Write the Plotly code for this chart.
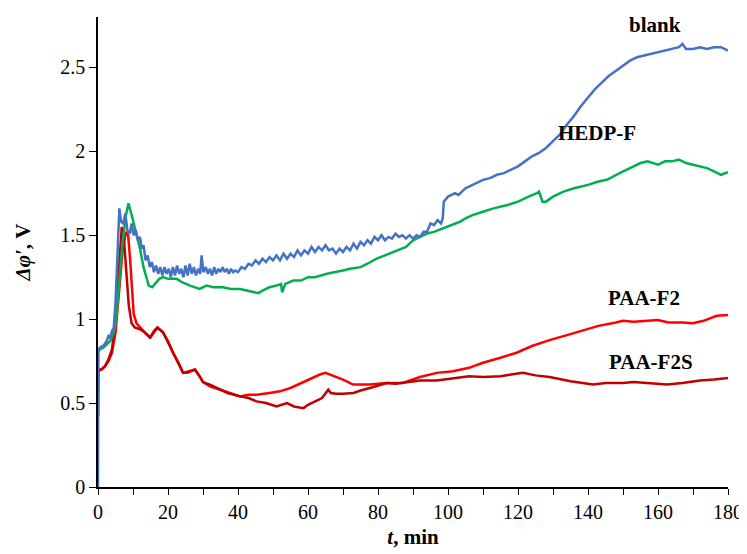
import plotly.graph_objects as go

# ---- data ----
blank_t = [0, 0.05, 0.5, 1.5, 2.5, 3, 3.5, 4, 4.5, 5, 5.5, 6.1, 6.6, 7.2, 7.8, 8.4, 9.1, 9.6, 10.2, 10.8,
           11.4, 12, 12.5, 13, 13.6, 14.2, 14.8, 15.4, 16, 16.6, 17.2, 17.8, 18.4, 19, 19.6, 20.2, 20.8,
           21.4, 22, 22.6, 23.2, 23.8, 24.4, 25, 25.6, 26.2, 26.8, 27.4, 28, 28.6, 29.2, 29.6, 30.1, 30.8,
           31.4, 32, 32.6, 33.2, 33.8, 34.4, 35, 35.6, 36.2, 36.8, 37.4, 38, 38.6, 39.2, 40, 41, 42, 43,
           44, 45, 46, 47, 48, 49, 50, 51, 52, 53, 54, 55, 56, 57, 58, 59, 60, 61, 62, 63, 64, 65, 66, 67,
           68, 69, 70, 71, 72, 73, 74, 75, 76, 77, 78, 79, 80, 81, 82, 83, 84, 85, 86, 87, 88, 89, 90, 91,
           92, 93, 94, 95, 96, 97, 98, 98.5, 98.8, 100, 101, 102, 103, 104, 105, 106, 107, 108, 109, 110,
           112, 114, 116, 118, 120, 122, 124, 126, 128, 130, 132, 134, 136, 138, 140, 142, 144, 146, 148,
           150, 152, 154, 156, 158, 160, 162, 164, 166, 167, 168, 170, 172, 174, 176, 178, 180]
blank_v = [0.0, 0.80, 0.83, 0.84, 0.87, 0.90, 0.89, 0.93, 0.95, 1.10, 1.35, 1.66, 1.58, 1.57, 1.63, 1.53,
           1.51, 1.57, 1.50, 1.53, 1.47, 1.49, 1.42, 1.44, 1.35, 1.38, 1.31, 1.34, 1.28, 1.32, 1.27, 1.31,
           1.26, 1.31, 1.27, 1.30, 1.25, 1.31, 1.26, 1.32, 1.27, 1.30, 1.25, 1.32, 1.26, 1.33, 1.27, 1.31,
           1.26, 1.30, 1.27, 1.38, 1.28, 1.31, 1.27, 1.30, 1.26, 1.31, 1.27, 1.30, 1.28, 1.31, 1.28, 1.30,
           1.27, 1.30, 1.28, 1.29, 1.28, 1.31, 1.30, 1.33, 1.32, 1.35, 1.33, 1.36, 1.34, 1.37, 1.35, 1.38,
           1.35, 1.39, 1.36, 1.39, 1.37, 1.41, 1.38, 1.41, 1.39, 1.43, 1.40, 1.43, 1.41, 1.44, 1.41, 1.42,
           1.39, 1.42, 1.40, 1.43, 1.41, 1.45, 1.42, 1.46, 1.44, 1.47, 1.45, 1.49, 1.47, 1.50, 1.47, 1.49,
           1.48, 1.51, 1.49, 1.50, 1.48, 1.50, 1.48, 1.50, 1.49, 1.52, 1.52, 1.57, 1.56, 1.59, 1.57, 1.60,
           1.70, 1.73, 1.74, 1.75, 1.74, 1.76, 1.78, 1.79, 1.80, 1.81, 1.82, 1.83, 1.84, 1.86, 1.87, 1.89,
           1.91, 1.94, 1.97, 1.99, 2.02, 2.06, 2.10, 2.16, 2.21, 2.27, 2.32, 2.37, 2.41, 2.45, 2.48, 2.51,
           2.54, 2.56, 2.57, 2.58, 2.59, 2.60, 2.61, 2.62, 2.64, 2.61, 2.61, 2.62, 2.61, 2.62, 2.62, 2.60]

hedp_t = [0, 0.05, 0.5, 1.5, 2.5, 3.5, 4.5, 5.2, 6, 7, 8, 8.7, 9.5, 10.2, 11, 12, 13, 14, 14.5, 15.5, 16.3,
          17.5, 18.6, 20, 22.5, 24, 26.3, 28, 29, 31, 33, 35.7, 38, 40.6, 43, 45.8, 47, 49, 51, 52.3, 52.6,
          53.5, 55.8, 58, 60, 62, 65.4, 68, 70, 72, 75, 77, 79.6, 82, 84.3, 86, 88, 89, 90, 92, 94, 96, 98.6,
          101, 103.4, 105, 107, 110, 113, 117, 120, 123, 125.4, 126, 127, 128, 130, 133, 136, 140, 143,
          145.4, 148, 150, 152, 155, 157, 160, 162, 164, 166, 168, 170, 172, 174, 176, 178, 180]
hedp_v = [0.60, 0.80, 0.82, 0.83, 0.85, 0.87, 0.92, 1.00, 1.20, 1.45, 1.62, 1.69, 1.63, 1.57, 1.52, 1.42,
          1.31, 1.23, 1.20, 1.19, 1.21, 1.24, 1.25, 1.24, 1.24, 1.22, 1.20, 1.19, 1.18, 1.20, 1.19, 1.19,
          1.18, 1.18, 1.17, 1.155, 1.17, 1.19, 1.20, 1.21, 1.16, 1.21, 1.23, 1.23, 1.25, 1.25, 1.27, 1.28,
          1.29, 1.30, 1.31, 1.33, 1.36, 1.38, 1.40, 1.41, 1.43, 1.45, 1.47, 1.49, 1.51, 1.52, 1.54, 1.56,
          1.58, 1.60, 1.62, 1.64, 1.66, 1.68, 1.70, 1.73, 1.75, 1.76, 1.70, 1.70, 1.73, 1.76, 1.78, 1.80,
          1.82, 1.83, 1.86, 1.88, 1.90, 1.93, 1.94, 1.92, 1.94, 1.94, 1.95, 1.93, 1.92, 1.91, 1.90, 1.88,
          1.86, 1.875]

f2_t = [0, 0.05, 1, 2, 3, 4, 5, 6, 7, 8, 8.6, 9.2, 9.7, 10.2, 11, 12, 13.4, 14.9, 16, 17, 18.6, 20, 21.4,
        23, 24.3, 26, 27.7, 29, 30, 32, 34.8, 37, 40.6, 43, 45.3, 49, 52, 55, 58.7, 61, 63.4, 65, 67, 70,
        72.9, 75, 77.7, 80, 82.5, 87.1, 90, 92, 96.8, 101.5, 106, 110, 115, 119.6, 124, 129, 134, 138.6,
        143, 148, 150, 153, 157.7, 160, 163, 167, 170, 173, 176.8, 180]
f2_v = [0.42, 0.70, 0.70, 0.72, 0.75, 0.80, 0.92, 1.15, 1.40, 1.52, 1.50, 1.35, 1.15, 1.03, 0.975, 0.95,
        0.92, 0.89, 0.93, 0.95, 0.92, 0.87, 0.80, 0.74, 0.68, 0.69, 0.70, 0.66, 0.625, 0.60, 0.58, 0.565,
        0.54, 0.55, 0.55, 0.56, 0.57, 0.59, 0.625, 0.65, 0.67, 0.68, 0.665, 0.64, 0.61, 0.61, 0.61, 0.615,
        0.62, 0.62, 0.64, 0.655, 0.68, 0.69, 0.71, 0.74, 0.77, 0.80, 0.84, 0.875, 0.905, 0.935, 0.96, 0.98,
        0.99, 0.985, 0.99, 0.995, 0.98, 0.98, 0.975, 0.99, 1.02, 1.025]

f2s_t = [0, 0.05, 1, 2, 3, 4, 5, 6, 6.8, 7.5, 8.2, 8.8, 9.6, 10.5, 12, 13.4, 14.9, 16, 17, 18.6, 20, 21.4,
         23, 24.3, 25.5, 27.7, 29, 30, 32, 34.8, 37, 40.6, 43, 45.3, 48, 51, 54, 56, 58.7, 60, 61.5, 64,
         65.8, 66.5, 68, 70, 73, 75, 77.7, 80, 82.5, 85, 87.1, 92, 96.8, 101.5, 106, 110, 115, 118, 121.4,
         125, 129, 135, 141.4, 145, 150, 153, 158, 162.6, 167, 172, 176, 180]
f2s_v = [0.42, 0.69, 0.70, 0.72, 0.76, 0.82, 1.00, 1.30, 1.55, 1.45, 1.25, 1.08, 0.975, 0.95, 0.94, 0.92,
         0.89, 0.92, 0.95, 0.92, 0.86, 0.80, 0.74, 0.68, 0.68, 0.70, 0.66, 0.625, 0.61, 0.58, 0.56, 0.54,
         0.53, 0.51, 0.50, 0.48, 0.50, 0.48, 0.47, 0.49, 0.505, 0.53, 0.58, 0.56, 0.555, 0.555, 0.56, 0.575,
         0.59, 0.605, 0.62, 0.615, 0.62, 0.635, 0.635, 0.65, 0.66, 0.655, 0.66, 0.67, 0.68, 0.665, 0.655,
         0.63, 0.61, 0.62, 0.62, 0.625, 0.615, 0.61, 0.62, 0.635, 0.64, 0.65]

y_ticks = [0, 0.5, 1, 1.5, 2, 2.5]
y_tick_text = ["0", "0.5", "1", "1.5", "2", "2.5"]
x_ticks = [0, 20, 40, 60, 80, 100, 120, 140, 160, 180]

labels = ["blank", "HEDP-F", "PAA-F2", "PAA-F2S"]
label_pos = [(159, 2.75), (142.5, 2.11), (156, 1.125), (158, 0.745)]

FONT = "Liberation Serif"

fig = go.Figure()
series = [
    (f2_t, f2_v, "#FF0000", "PAA-F2"),
    (f2s_t, f2s_v, "#C00000", "PAA-F2S"),
    (hedp_t, hedp_v, "#00B050", "HEDP-F"),
    (blank_t, blank_v, "#4472C4", "blank"),
]
for t, v, c, n in series:
    fig.add_trace(go.Scatter(x=t, y=v, mode="lines", name=n,
                             line=dict(color=c, width=2.5), showlegend=False))

for lab, (lx, ly) in zip(labels, label_pos):
    fig.add_annotation(x=lx, y=ly, text="<b>" + lab + "</b>", showarrow=False,
                       font=dict(family=FONT, size=21, color="black"),
                       xanchor="center", yanchor="middle")

# page body adds an 8px offset, so the figure is sized to fit the window
fig.update_layout(
    width=739, height=546,
    margin=dict(l=90, r=19, t=9, b=67),
    paper_bgcolor="white", plot_bgcolor="white",
    font=dict(family=FONT, size=20, color="black"),
    xaxis=dict(range=[0, 180], tickvals=x_ticks, showline=True, linecolor="black", linewidth=1.5,
               ticks="outside", ticklen=6, tickwidth=1.2, tickcolor="black", showgrid=False,
               zeroline=False, tickfont=dict(family=FONT, size=20), automargin=False,
               minor=dict(dtick=10, ticks="outside", ticklen=6, tickwidth=1.2, tickcolor="black"),
               title=dict(text="<b><i>t</i>, min</b>", font=dict(family=FONT, size=21), standoff=8)),
    yaxis=dict(range=[0, 2.8], tickvals=y_ticks, ticktext=y_tick_text, showline=True,
               linecolor="black", linewidth=1.5, ticks="outside", ticklen=7, tickwidth=1.2,
               tickcolor="black", showgrid=False, zeroline=False, tickfont=dict(family=FONT, size=20),
               automargin=False,
               title=dict(text="<b><i>Δφ′</i>, V</b>", font=dict(family=FONT, size=21), standoff=24)),
)

fig.write_html("out.html", config={"displayModeBar": False})
